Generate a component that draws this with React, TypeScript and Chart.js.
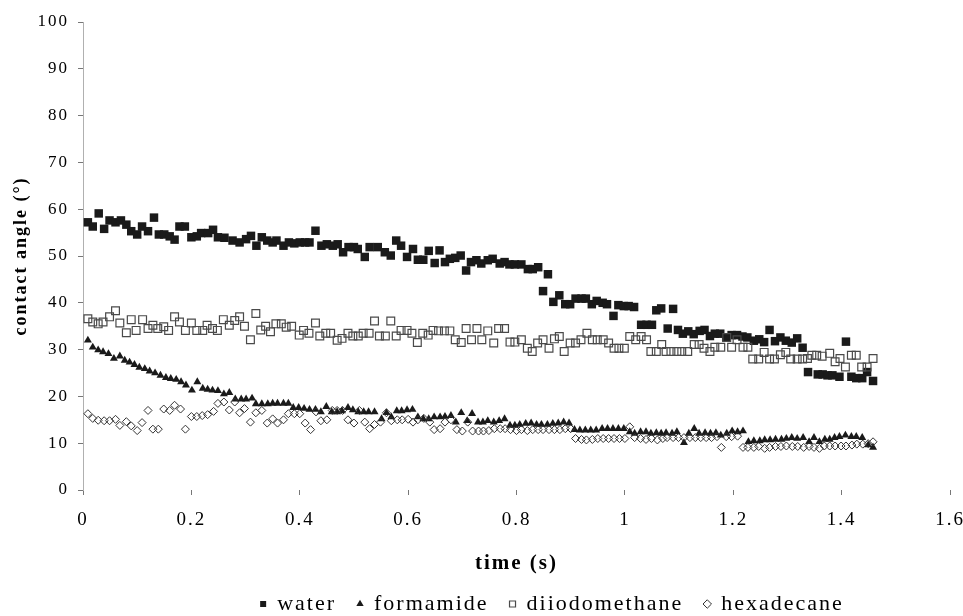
import React, { useEffect, useRef } from "react";
import { Chart, registerables } from "chart.js";

Chart.register(...registerables);

// ---------- data (time in s, contact angle in degrees) ----------
const waterT = [0.009,0.018,0.029,0.039,0.049,0.06,0.07,0.08,0.089,0.1,0.109,0.12,0.131,0.14,0.15,0.16,0.169,0.178,0.188,0.2,0.21,0.218,0.231,0.24,0.249,0.261,0.276,0.289,0.301,0.31,0.32,0.33,0.34,0.35,0.357,0.37,0.38,0.39,0.4,0.41,0.418,0.429,0.44,0.45,0.461,0.47,0.48,0.49,0.5,0.507,0.52,0.529,0.544,0.557,0.568,0.578,0.587,0.598,0.609,0.618,0.628,0.638,0.649,0.658,0.668,0.677,0.687,0.697,0.707,0.716,0.726,0.735,0.747,0.756,0.769,0.778,0.787,0.797,0.809,0.821,0.83,0.84,0.849,0.858,0.868,0.879,0.89,0.899,0.909,0.92,0.928,0.939,0.948,0.959,0.967,0.979,0.988,0.998,1.007,1.017,1.03,1.04,1.05,1.058,1.067,1.079,1.089,1.098,1.107,1.117,1.127,1.138,1.147,1.157,1.166,1.176,1.187,1.197,1.207,1.217,1.226,1.238,1.248,1.257,1.267,1.277,1.287,1.297,1.308,1.318,1.328,1.338,1.356,1.365,1.374,1.383,1.396,1.408,1.418,1.427,1.438,1.447,1.458];
const waterV = [57.2,56.3,59.1,55.8,57.6,57.2,57.6,56.7,55.3,54.6,56.3,55.3,58.2,54.6,54.6,54.2,53.5,56.3,56.3,54,54.2,54.9,54.9,55.6,54,53.9,53.3,52.9,53.6,54.3,52.2,54,53.3,52.9,53.3,52.2,52.9,52.7,52.9,52.9,52.9,55.4,52.2,52.5,52.2,52.5,50.8,51.9,51.9,51.5,49.8,51.9,51.9,50.8,50.1,53.3,52.2,49.8,51.5,49.2,49.2,51.1,48.5,51.2,48.7,49.4,49.6,50.1,46.9,48.7,49.1,48.4,49.1,49.4,48.4,48.7,48.2,48.2,48.2,47.2,47.2,47.6,42.5,46.1,40.2,41.6,39.7,39.7,40.9,40.9,40.9,39.7,40.4,40,39.7,37.2,39.5,39.3,39.3,39.1,35.3,35.3,35.3,38.4,38.8,34.5,38.7,34.2,33.4,33.9,33.3,34,34.2,32.9,33.4,33.4,32.6,33.1,33.1,32.8,32.6,31.9,32.2,31.6,34.2,31.8,32.6,31.9,31.5,32.4,30.4,25.2,24.7,24.7,24.5,24.5,24.2,31.7,24.2,23.9,23.9,25.2,23.3];

const formamideT = [0.009,0.018,0.028,0.037,0.047,0.057,0.068,0.077,0.086,0.095,0.104,0.114,0.123,0.133,0.143,0.153,0.162,0.172,0.181,0.19,0.201,0.211,0.221,0.23,0.239,0.249,0.26,0.27,0.281,0.292,0.301,0.312,0.319,0.33,0.341,0.35,0.359,0.37,0.379,0.388,0.398,0.408,0.418,0.429,0.439,0.449,0.459,0.469,0.478,0.489,0.498,0.508,0.518,0.527,0.538,0.551,0.56,0.569,0.579,0.588,0.598,0.608,0.618,0.628,0.638,0.648,0.659,0.668,0.679,0.688,0.698,0.709,0.718,0.729,0.738,0.747,0.758,0.768,0.778,0.788,0.797,0.806,0.817,0.827,0.837,0.846,0.857,0.867,0.877,0.887,0.897,0.907,0.917,0.927,0.937,0.947,0.958,0.968,0.978,0.988,0.998,1.009,1.018,1.029,1.039,1.048,1.058,1.067,1.076,1.087,1.096,1.109,1.118,1.128,1.137,1.148,1.158,1.168,1.177,1.188,1.198,1.208,1.218,1.228,1.238,1.249,1.258,1.268,1.278,1.289,1.298,1.308,1.318,1.329,1.34,1.349,1.359,1.369,1.378,1.387,1.396,1.407,1.418,1.427,1.438,1.449,1.458];
const formamideV = [32,30.5,29.9,29.5,29.1,28.1,28.6,27.7,27.3,26.8,26.2,25.9,25.4,25,24.5,24,23.8,23.6,23.1,22.4,21.3,23.1,21.7,21.5,21.3,21.2,20.5,20.8,19.4,19.4,19.4,19.6,18.4,18.4,18.4,18.5,18.5,18.5,18.5,17.6,17.6,17.4,17.2,17.2,16.7,17.8,16.7,16.7,16.9,17.6,17.1,16.7,16.7,16.7,16.7,15.2,16.5,15.6,16.9,16.9,17.1,17.2,15.6,15.2,15.2,15.6,15.6,15.7,15.9,14.5,16.5,14.8,16.3,14.5,14.5,14.8,14.5,14.8,15.2,13.8,13.8,14,14.2,14.3,14,14,14,14.2,14.3,14.5,14.3,12.9,12.8,12.8,12.8,12.8,13.1,13.1,13.1,13.1,13.1,12.4,12.1,12.4,12.4,12.1,12.2,12.1,12.2,12.1,12.4,10.1,12.1,13.1,12.1,12.2,12.1,12.2,11.7,12.1,12.6,12.4,12.6,10.3,10.5,10.5,10.7,10.7,10.8,10.8,11,11.2,11,11.2,10.3,11.2,10.3,10.8,10.8,11.2,11.4,11.7,11.4,11.4,11.2,9.6,9.1];

const diiodomethaneT = [0.009,0.018,0.028,0.037,0.049,0.06,0.068,0.08,0.089,0.098,0.11,0.12,0.129,0.138,0.149,0.158,0.169,0.178,0.189,0.2,0.21,0.221,0.229,0.239,0.248,0.259,0.27,0.28,0.289,0.298,0.309,0.319,0.328,0.337,0.346,0.356,0.366,0.375,0.385,0.399,0.407,0.417,0.429,0.437,0.448,0.457,0.469,0.478,0.489,0.498,0.508,0.517,0.528,0.538,0.547,0.558,0.568,0.578,0.587,0.598,0.607,0.617,0.627,0.637,0.646,0.656,0.667,0.677,0.687,0.698,0.707,0.717,0.727,0.736,0.747,0.758,0.767,0.778,0.788,0.797,0.809,0.82,0.829,0.839,0.849,0.86,0.87,0.879,0.888,0.899,0.909,0.919,0.93,0.94,0.949,0.96,0.97,0.98,0.989,0.999,1.009,1.02,1.03,1.04,1.048,1.058,1.068,1.076,1.085,1.096,1.105,1.116,1.128,1.137,1.146,1.157,1.166,1.177,1.188,1.197,1.207,1.218,1.227,1.236,1.247,1.257,1.267,1.276,1.287,1.297,1.306,1.318,1.328,1.337,1.345,1.354,1.364,1.378,1.388,1.397,1.407,1.418,1.427,1.437,1.447,1.458];
const diiodomethaneV = [36.6,35.9,35.5,35.9,37,38.3,35.7,33.6,36.4,34.1,36.4,34.5,35.2,34.5,34.9,34.1,37,35.9,34.1,35.7,34.1,34.1,35.2,34.5,34.1,36.4,35.2,36.2,37,35,32.1,37.7,34.2,35,33.8,35.5,35.5,34.8,35,33.1,34.1,33.5,35.7,32.9,33.5,33.5,32,32.4,33.5,32.9,32.9,33.5,33.5,36.1,32.9,32.9,36.1,32.9,34.1,34.1,33.5,31.5,33.5,33.1,34.1,34,34,34,32.1,31.5,34.5,32.1,34.5,32.1,34,31.4,34.5,34.5,31.6,31.6,32.1,30.3,29.6,31.4,32.1,30.3,32.3,32.8,29.6,31.4,31.4,32.1,33.5,32.1,32.1,32.1,31.4,30.3,30.3,30.3,32.8,32.1,32.8,32.1,29.6,29.6,31.1,29.6,29.6,29.6,29.6,29.6,31.1,31.1,30.3,29.6,30.5,30.5,32.6,30.5,32.1,30.5,30.5,28,28,29.4,28,28,28.9,29.4,28,28,28,28.1,28.8,28.8,28.6,29.2,27.4,28.1,26.3,28.8,28.8,26.3,26.3,28.1];

const hexadecaneT = [0.009,0.018,0.028,0.039,0.049,0.06,0.068,0.08,0.089,0.1,0.109,0.12,0.129,0.139,0.149,0.16,0.169,0.18,0.189,0.2,0.21,0.22,0.23,0.241,0.249,0.26,0.27,0.28,0.289,0.298,0.309,0.319,0.33,0.34,0.35,0.359,0.37,0.379,0.39,0.4,0.41,0.42,0.43,0.439,0.45,0.46,0.469,0.479,0.489,0.5,0.51,0.52,0.529,0.538,0.549,0.56,0.569,0.58,0.589,0.6,0.609,0.618,0.629,0.64,0.648,0.659,0.668,0.679,0.69,0.7,0.71,0.719,0.73,0.739,0.749,0.759,0.77,0.779,0.789,0.8,0.809,0.82,0.83,0.84,0.849,0.86,0.87,0.88,0.89,0.9,0.909,0.92,0.929,0.94,0.95,0.96,0.97,0.98,0.99,1.0,1.009,1.018,1.029,1.039,1.049,1.06,1.07,1.078,1.089,1.099,1.109,1.12,1.13,1.14,1.15,1.16,1.17,1.178,1.187,1.197,1.208,1.218,1.227,1.238,1.247,1.258,1.267,1.278,1.288,1.298,1.309,1.319,1.33,1.34,1.349,1.359,1.368,1.378,1.388,1.399,1.408,1.419,1.428,1.439,1.449,1.458];
const hexadecaneV = [16.3,15.3,14.9,14.8,14.8,15.1,13.8,14.6,13.7,12.7,14.4,17,13,13,17.3,17,18.1,17.3,13,15.7,15.7,15.9,16.1,16.8,18.5,18.8,17.1,18.8,16.5,17.4,14.5,16.5,17,14.3,15.2,14.3,15,16.3,16.3,16.3,14.3,12.9,16.7,14.8,15,17,17,17,15,14.3,17,14.5,13.1,14,14.5,16.5,14.8,15,15,15.1,14.5,15,15.3,14.5,12.9,13.1,14.5,15,12.9,12.6,14.5,12.6,12.6,12.6,12.7,13.1,13.1,13.1,12.9,12.7,12.9,12.7,12.9,12.9,12.9,12.9,12.9,12.9,13.1,13.1,11,10.8,10.7,10.8,11,11,11,11,11,11,13.5,11.2,11,10.8,11,10.7,11,11.2,11.2,11.2,11.2,11.2,11.2,11.2,11.2,11.2,11.4,9.1,11.4,11.4,11.5,9.1,9.1,9.1,9.3,8.9,9.1,9.3,9.3,9.4,9.3,9.3,9.1,9.3,9.1,8.9,9.4,9.4,9.4,9.4,9.4,9.6,9.8,9.8,9.9,10.3];

const seriesLabels = ["water", "formamide", "diiodomethane", "hexadecane"];
const xTickValues = [0, 0.2, 0.4, 0.6, 0.8, 1, 1.2, 1.4, 1.6];
const xTickLabels = ["0", "0.2", "0.4", "0.6", "0.8", "1", "1.2", "1.4", "1.6"];
const yTickValues = [0, 10, 20, 30, 40, 50, 60, 70, 80, 90, 100];

const FONT = "'Liberation Serif', 'Times New Roman', serif";
const LETTER_SPACING = "2px";
const LEGEND_SHIFT = 77;

Chart.defaults.font.family = FONT;

function pts(t: number[], v: number[]) {
  return t.map((x, i) => ({ x, y: v[i] }));
}

// wide letter spacing of the original typesetting, and the legend's off-centre placement
const spacingPlugin = {
  id: "letterSpacing",
  beforeUpdate(c: any) {
    c.ctx.letterSpacing = LETTER_SPACING;
  },
  beforeLayout(c: any) {
    c.ctx.letterSpacing = LETTER_SPACING;
  },
  afterLayout(c: any) {
    const l = c.legend;
    if (l) {
      l.left += LEGEND_SHIFT;
      l.right += LEGEND_SHIFT;
    }
  },
  beforeDraw(c: any) {
    c.ctx.letterSpacing = LETTER_SPACING;
  },
};

export default function App() {
  const ref = useRef<HTMLCanvasElement | null>(null);

  useEffect(() => {
    if (!ref.current) return;
    const chart = new Chart(ref.current, {
      type: "scatter",
      plugins: [spacingPlugin],
      data: {
        datasets: [
          {
            label: seriesLabels[0],
            data: pts(waterT, waterV),
            pointStyle: "rect",
            pointRadius: 6,
            backgroundColor: "#1a1a1a",
            borderColor: "#1a1a1a",
            borderWidth: 0,
            order: 4,
          },
          {
            label: seriesLabels[1],
            data: pts(formamideT, formamideV),
            pointStyle: "triangle",
            pointRadius: 4.6,
            backgroundColor: "#1a1a1a",
            borderColor: "#1a1a1a",
            borderWidth: 0,
            order: 3,
          },
          {
            label: seriesLabels[2],
            data: pts(diiodomethaneT, diiodomethaneV),
            pointStyle: "rect",
            pointRadius: 5.5,
            backgroundColor: "rgba(255,255,255,0)",
            borderColor: "#4a4a4a",
            borderWidth: 1.2,
            order: 2,
          },
          {
            label: seriesLabels[3],
            data: pts(hexadecaneT, hexadecaneV),
            pointStyle: "rectRot",
            pointRadius: 4,
            backgroundColor: "rgba(255,255,255,0)",
            borderColor: "#333333",
            borderWidth: 1,
            order: 1,
          },
        ],
      },
      options: {
        animation: false,
        responsive: true,
        maintainAspectRatio: false,
        layout: { padding: { top: 22, right: 13, left: 0, bottom: -9 } },
        plugins: {
          legend: {
            position: "bottom",
            labels: {
              usePointStyle: true,
              boxWidth: 6,
              boxHeight: 6,
              padding: 21,
              color: "#000",
              font: { family: FONT, size: 22 },
              sort: (a: any, b: any) => a.datasetIndex - b.datasetIndex,
            },
          },
          tooltip: { enabled: false },
        },
        scales: {
          x: {
            type: "linear",
            min: 0,
            max: 1.6,
            afterBuildTicks: (s: any) => {
              s.ticks = xTickValues.map((value) => ({ value }));
            },
            afterFit: (s: any) => {
              s.height = 82;
              s.paddingLeft = 0;
              s.paddingRight = 0;
            },
            ticks: {
              color: "#000",
              padding: 14,
              font: { family: FONT, size: 19 },
              callback: (v: any) => {
                const i = xTickValues.findIndex((t) => Math.abs(t - Number(v)) < 1e-6);
                return i >= 0 ? xTickLabels[i] : "";
              },
            },
            grid: { drawOnChartArea: false, drawTicks: true, tickLength: 5, color: "#777" },
            border: { display: false },
            title: {
              display: true,
              text: "time (s)",
              color: "#000",
              font: { family: FONT, size: 21, weight: "bold" },
              padding: { top: 2, bottom: -4 },
            },
          },
          y: {
            type: "linear",
            min: 0,
            max: 100,
            afterBuildTicks: (s: any) => {
              s.ticks = yTickValues.map((value) => ({ value }));
            },
            afterFit: (s: any) => {
              s.width = 83;
            },
            ticks: {
              color: "#000",
              padding: 9,
              font: { family: FONT, size: 17 },
            },
            grid: { drawOnChartArea: false, drawTicks: true, tickLength: 5, color: "#777" },
            border: { display: true, color: "#b0b0b0", width: 1 },
            title: {
              display: true,
              text: "contact angle (°)",
              color: "#000",
              font: { family: FONT, size: 18, weight: "bold" },
              padding: { top: 11, bottom: 4 },
            },
          },
        },
      },
    } as any);
    return () => chart.destroy();
  }, []);

  return (
    <div style={{ position: "absolute", left: 0, top: 0, width: 963, height: 616 }}>
      <canvas ref={ref} />
    </div>
  );
}
